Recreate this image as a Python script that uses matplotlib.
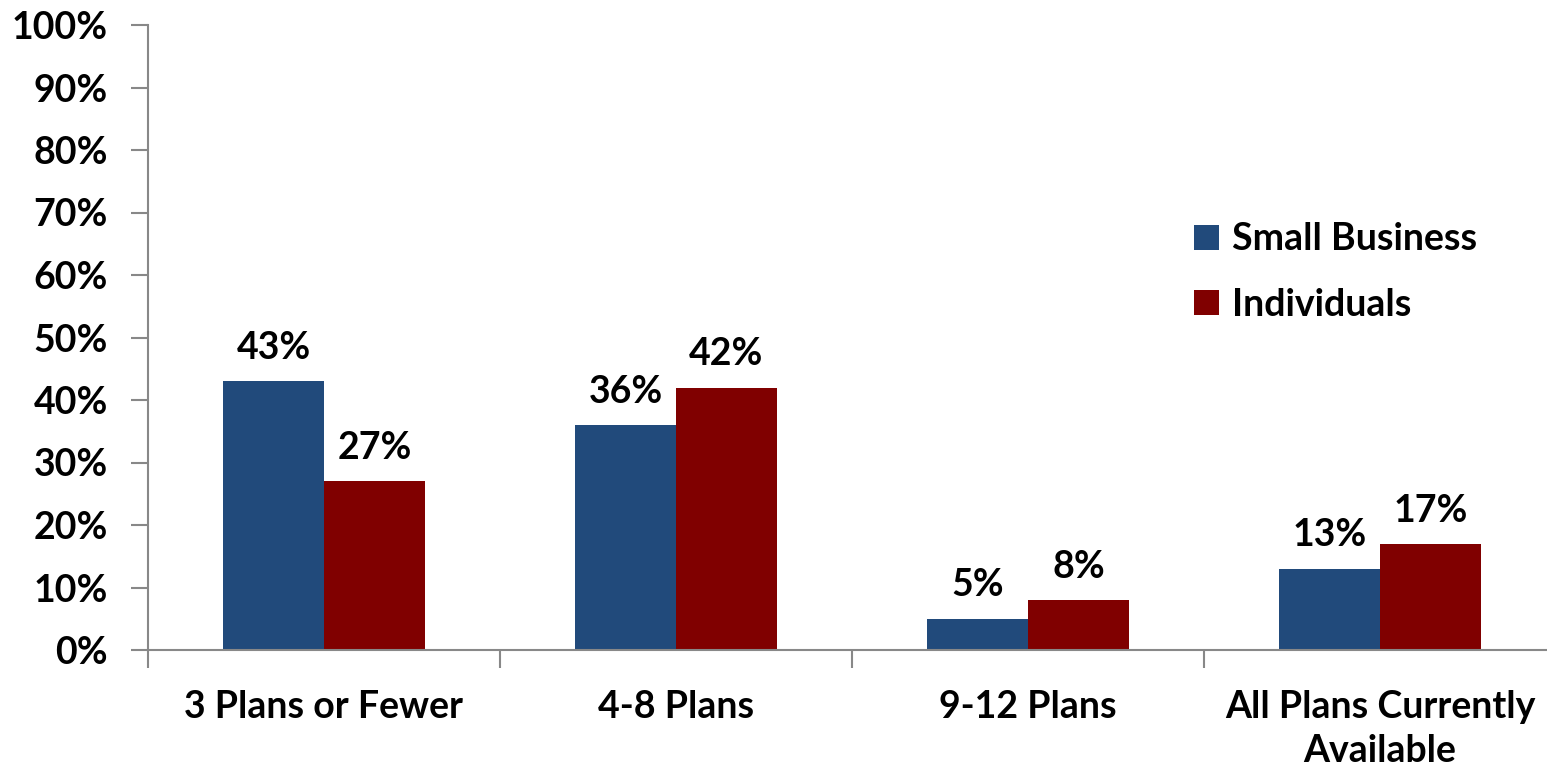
import numpy as np
import matplotlib.pyplot as plt

categories = ["3 Plans or Fewer", "4-8 Plans", "9-12 Plans", "All Plans Currently\nAvailable"]
small_business = [43, 36, 5, 13]
individuals = [27, 42, 8, 17]
series_names = ["Small Business", "Individuals"]
colors = ["#214a7b", "#800000"]

plt.rcParams['font.family'] = ['Lato', 'DejaVu Sans']
plt.rcParams['font.weight'] = 'bold'
fs = 27

fig = plt.figure(figsize=(15.47, 7.72), dpi=100)
ax = fig.add_axes([148 / 1547, 1 - 650 / 772, 1408 / 1547, 625 / 772])

x = np.arange(len(categories))
w = 0.287
b1 = ax.bar(x - w / 2, small_business, w, color=colors[0], label=series_names[0])
b2 = ax.bar(x + w / 2, individuals, w, color=colors[1], label=series_names[1])

for bars, vals in ((b1, small_business), (b2, individuals)):
    for bar, v in zip(bars, vals):
        ax.text(bar.get_x() + bar.get_width() / 2, v + 2.6, f"{v}%",
                ha='center', va='bottom', fontsize=fs, fontweight='bold')

ax.set_xlim(-0.5, len(categories) - 0.5)
ax.set_ylim(0, 100)
ax.set_yticks(range(0, 101, 10))
ax.set_yticklabels([f"{t}%" for t in range(0, 101, 10)], fontsize=fs, fontweight='bold')
ax.set_xticks(x)
ax.set_xticklabels(categories, fontsize=fs, fontweight='bold', linespacing=1.35)
ax.set_xticks(np.arange(-0.5, len(categories), 1), minor=True)
ax.tick_params(axis='x', which='major', length=0, pad=29)
ax.tick_params(axis='x', which='minor', length=13, color='#888888', width=1.5, direction='out')
ax.tick_params(axis='y', length=12, color='#888888', width=1.5, pad=17)

for s in ('top', 'right'):
    ax.spines[s].set_visible(False)
for s in ('left', 'bottom'):
    ax.spines[s].set_color('#888888')
    ax.spines[s].set_linewidth(1.5)

leg = ax.legend(loc='upper left', bbox_to_anchor=(1168 / 1547, 1 - 196 / 772),
                bbox_transform=fig.transFigure, frameon=False, fontsize=fs,
                handlelength=0.65, handleheight=0.65, handletextpad=0.35,
                labelspacing=0.85, borderpad=0.2)

fig.savefig("out.png", dpi=100)
